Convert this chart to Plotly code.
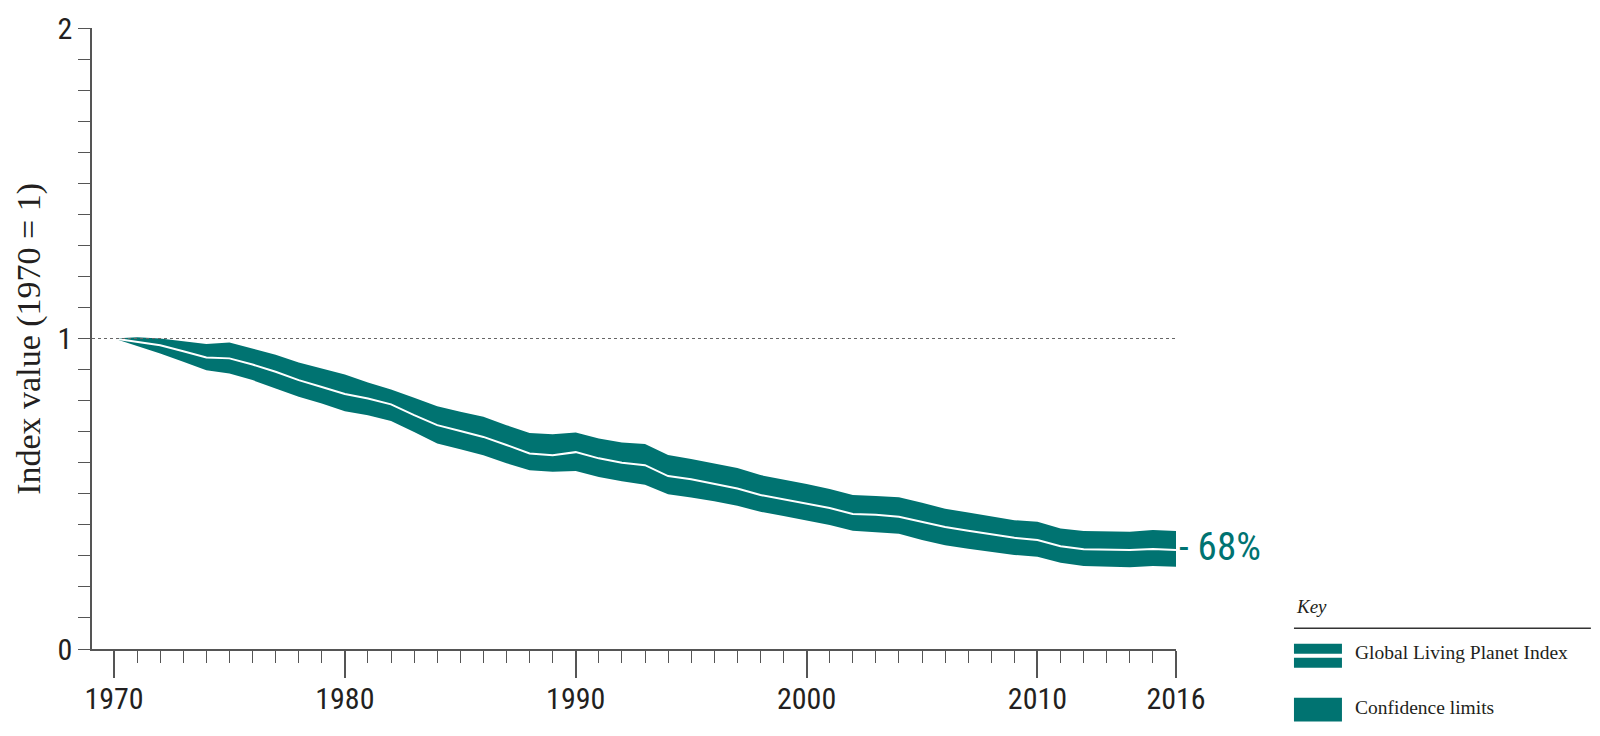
import plotly.graph_objects as go

# ---- data ----
years = list(range(1970, 2017))
lpi = [1.000, 0.990, 0.978, 0.959, 0.939, 0.936, 0.916, 0.893, 0.866, 0.844,
       0.821, 0.807, 0.788, 0.753, 0.721, 0.702, 0.683, 0.657, 0.630, 0.624,
       0.634, 0.614, 0.600, 0.592, 0.557, 0.547, 0.532, 0.517, 0.496, 0.482,
       0.467, 0.454, 0.435, 0.432, 0.426, 0.410, 0.393, 0.381, 0.370, 0.358,
       0.351, 0.331, 0.321, 0.320, 0.319, 0.322, 0.319]
upper = [1.000, 1.004, 1.000, 0.991, 0.982, 0.987, 0.968, 0.948, 0.923, 0.903,
         0.884, 0.858, 0.836, 0.809, 0.782, 0.764, 0.748, 0.721, 0.696, 0.692,
         0.697, 0.678, 0.665, 0.660, 0.625, 0.612, 0.597, 0.583, 0.560, 0.546,
         0.531, 0.515, 0.496, 0.493, 0.489, 0.471, 0.452, 0.440, 0.428, 0.415,
         0.410, 0.388, 0.380, 0.379, 0.378, 0.383, 0.380]
lower = [1.000, 0.977, 0.952, 0.925, 0.898, 0.887, 0.866, 0.839, 0.812, 0.791,
         0.766, 0.753, 0.734, 0.699, 0.662, 0.643, 0.624, 0.598, 0.576, 0.571,
         0.573, 0.554, 0.540, 0.529, 0.498, 0.488, 0.476, 0.461, 0.442, 0.428,
         0.413, 0.399, 0.381, 0.377, 0.371, 0.351, 0.334, 0.323, 0.313, 0.303,
         0.297, 0.278, 0.267, 0.265, 0.263, 0.267, 0.265]
x_major_ticks = [1970, 1980, 1990, 2000, 2010, 2016]
y_major_ticks = [0, 1, 2]
y_axis_title = "Index value (1970 = 1)"
legend_labels = ["Global Living Planet Index", "Confidence limits"]

# ---- style ----
TEAL = "#007371"
TEXT = "#231f20"
AXIS = "#555555"
COND = "Liberation Sans Narrow, Roboto Condensed, DejaVu Sans Condensed, Liberation Sans, sans-serif"
SERIF = "Liberation Serif, DejaVu Serif, serif"

W, H = 1600, 736
ML, MR, MT, MB = 91.7, 424, 27.6, 86.7
PW, PH = W - ML - MR, H - MT - MB


def px(x):
    return (x - ML) / PW


def py(y):
    return (H - MB - y) / PH


fig = go.Figure()
fig.add_trace(go.Scatter(x=years, y=upper, mode="lines", line=dict(width=0, color=TEAL),
                         showlegend=False, hoverinfo="skip"))
fig.add_trace(go.Scatter(x=years, y=lower, mode="lines", line=dict(width=0, color=TEAL),
                         fill="tonexty", fillcolor=TEAL, showlegend=False, hoverinfo="skip"))
fig.add_trace(go.Scatter(x=years, y=lpi, mode="lines", line=dict(width=2, color="white"),
                         showlegend=False))

decline = round((1 - lpi[-1]) * 100)
fig.add_annotation(x=years[-1], y=lpi[-1], xref="x", yref="y", text=f"- {decline}%",
                   showarrow=False, xanchor="left", yanchor="middle", xshift=1, yshift=3,
                   font=dict(family=COND, size=39, color=TEAL))

# reference line at 1
fig.add_shape(type="line", xref="paper", yref="y", x0=0, x1=1, y0=1, y1=1,
              line=dict(color="#666666", width=1, dash="dot"), layer="above")

# y-axis title
fig.add_annotation(xref="paper", yref="paper", x=px(28), y=0.5, text=y_axis_title,
                   textangle=-90, showarrow=False, xanchor="center", yanchor="middle",
                   font=dict(family=SERIF, size=34, color=TEXT))

# key
fig.add_annotation(xref="paper", yref="paper", x=px(1294), y=py(607), text="<i>Key</i>",
                   showarrow=False, xanchor="left", yanchor="middle",
                   font=dict(family=SERIF, size=19, color=TEXT))
fig.add_shape(type="line", xref="paper", yref="paper", x0=px(1294), x1=px(1591),
              y0=py(628.5), y1=py(628.5), line=dict(color="#333333", width=1.5))
fig.add_shape(type="rect", xref="paper", yref="paper", x0=px(1294), x1=px(1342),
              y0=py(644), y1=py(654), fillcolor=TEAL, line=dict(width=0))
fig.add_shape(type="rect", xref="paper", yref="paper", x0=px(1294), x1=px(1342),
              y0=py(658), y1=py(668), fillcolor=TEAL, line=dict(width=0))
fig.add_shape(type="rect", xref="paper", yref="paper", x0=px(1294), x1=px(1342),
              y0=py(698), y1=py(722), fillcolor=TEAL, line=dict(width=0))
fig.add_annotation(xref="paper", yref="paper", x=px(1353), y=py(653), text=legend_labels[0],
                   showarrow=False, xanchor="left", yanchor="middle",
                   font=dict(family=SERIF, size=19.5, color=TEXT))
fig.add_annotation(xref="paper", yref="paper", x=px(1353), y=py(708), text=legend_labels[1],
                   showarrow=False, xanchor="left", yanchor="middle",
                   font=dict(family=SERIF, size=19.5, color=TEXT))

fig.update_layout(
    width=W, height=H,
    margin=dict(l=ML, r=MR, t=MT, b=MB, pad=0),
    plot_bgcolor="white", paper_bgcolor="white",
    showlegend=False,
    xaxis=dict(range=[1969.047, 2016], showgrid=False, zeroline=False, automargin=False,
               showline=True, linecolor=AXIS, linewidth=1.5,
               tickmode="array", tickvals=x_major_ticks,
               ticks="outside", ticklen=27, tickwidth=1.5, tickcolor=AXIS,
               ticklabelstandoff=-5,
               tickfont=dict(family=COND, size=30, color=TEXT),
               minor=dict(dtick=1, tick0=1970, ticks="outside", ticklen=12,
                          tickwidth=1.2, tickcolor=AXIS, showgrid=False)),
    yaxis=dict(range=[0, 2], showgrid=False, zeroline=False, automargin=False,
               showline=True, linecolor=AXIS, linewidth=1.5,
               tickmode="array", tickvals=y_major_ticks,
               ticks="outside", ticklen=12, tickwidth=1.2, tickcolor=AXIS,
               ticklabelstandoff=0,
               tickfont=dict(family=COND, size=30, color=TEXT),
               minor=dict(dtick=0.1, tick0=0, ticks="outside", ticklen=12,
                          tickwidth=1.2, tickcolor=AXIS, showgrid=False)),
)

fig.write_html("out.html", config={"displayModeBar": False},
               post_script="document.body.style.margin='0';")
